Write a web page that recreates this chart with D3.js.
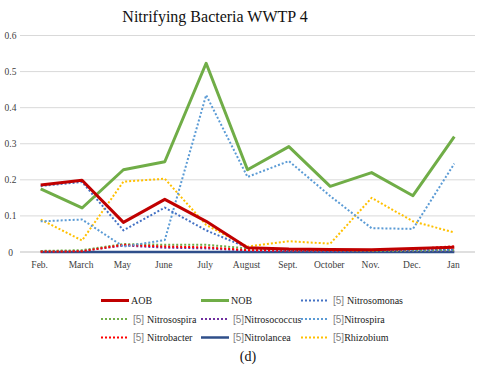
<!DOCTYPE html>
<html>
<head>
<meta charset="utf-8">
<script src="https://cdn.jsdelivr.net/npm/d3@7"></script>
<style>
  body { margin: 0; background: #fff; }
  svg { display: block; }
</style>
</head>
<body>
<div id="draw"></div>
<script>
let W = 480, H = 368;
let SERIF = '"Liberation Serif"';
let SANS = '"Liberation Sans"';

// data
let months = ['Feb.', 'March', 'May', 'June', 'July', 'August', 'Sept.', 'October', 'Nov.', 'Dec.', 'Jan'];
let yTicks = [0, 0.1, 0.2, 0.3, 0.4, 0.5, 0.6];
let aob = [0.186, 0.199, 0.082, 0.146, 0.085, 0.012, 0.008, 0.007, 0.006, 0.010, 0.013];
let nob = [0.175, 0.122, 0.228, 0.250, 0.523, 0.228, 0.292, 0.182, 0.220, 0.156, 0.320];
let nitrosomonas = [0.183, 0.194, 0.060, 0.123, 0.060, 0.012, 0.005, 0.004, 0.005, 0.006, 0.006];
let nitrosospira = [0.003, 0.005, 0.022, 0.020, 0.020, 0.010, 0.005, 0.004, 0.003, 0.004, 0.005];
let nitrosococcus = [0.002, 0.003, 0.018, 0.012, 0.010, 0.004, 0.003, 0.002, 0.003, 0.003, 0.004];
let nitrospira = [0.085, 0.090, 0.015, 0.033, 0.435, 0.208, 0.252, 0.155, 0.066, 0.064, 0.245];
let nitrobacter = [0.001, 0.002, 0.020, 0.015, 0.013, 0.005, 0.004, 0.004, 0.005, 0.008, 0.016];
let nitrolancea = [0.000, 0.000, 0.000, 0.000, 0.000, 0.000, 0.000, 0.000, 0.000, 0.000, 0.000];
let rhizobium = [0.090, 0.032, 0.195, 0.203, 0.075, 0.015, 0.030, 0.023, 0.150, 0.085, 0.054];

// draw order bottom -> top, legend order is separate
let series = [
  {name: 'Nitrolancea', vals: nitrolancea, color: '#2f4f8a', w: 2.5, dash: null, ref: true},
  {name: 'Nitrosococcus', vals: nitrosococcus, color: '#7030a0', w: 2, dash: '2,2', ref: true},
  {name: 'Nitrosospira', vals: nitrosospira, color: '#70ad47', w: 2, dash: '2,2', ref: true},
  {name: 'Nitrobacter', vals: nitrobacter, color: '#ff0000', w: 2, dash: '2,2', ref: true},
  {name: 'Rhizobium', vals: rhizobium, color: '#ffc000', w: 2, dash: '2,2', ref: true},
  {name: 'Nitrospira', vals: nitrospira, color: '#5b9bd5', w: 2, dash: '2,2', ref: true},
  {name: 'Nitrosomonas', vals: nitrosomonas, color: '#4472c4', w: 2, dash: '2,2', ref: true},
  {name: 'NOB', vals: nob, color: '#70ad47', w: 3, dash: null, ref: false},
  {name: 'AOB', vals: aob, color: '#c00000', w: 3, dash: null, ref: false}
];

let legendOrder = [
  ['AOB', 'NOB', 'Nitrosomonas'],
  ['Nitrosospira', 'Nitrosococcus', 'Nitrospira'],
  ['Nitrobacter', 'Nitrolancea', 'Rhizobium']
];
// entries written "[5]Name" with no space in the source figure
let noSpace = ['Nitrosococcus', 'Nitrospira', 'Nitrolancea', 'Rhizobium'];

let svg = d3.select('#draw').append('svg').attr('width', W).attr('height', H);

let x = d3.scaleBand().domain(months).range([20, 475]).padding(0);
let y = d3.scaleLinear().domain([0, 0.6]).range([252, 35.5]);
let cx = function(m) { return x(m) + x.bandwidth() / 2; };

// title
svg.append('text')
  .style('font-family', SERIF)
  .attr('x', 215).attr('y', 22)
  .attr('text-anchor', 'middle')
  .attr('font-size', 16)
  .attr('fill', '#111')
  .text('Nitrifying Bacteria WWTP 4');

// gridlines
svg.append('g').selectAll('line').data(yTicks).join('line')
  .attr('x1', 20).attr('x2', 475)
  .attr('y1', d => y(d)).attr('y2', d => y(d))
  .attr('stroke', d => d === 0 ? '#bfbfbf' : '#d9d9d9')
  .attr('stroke-width', 1);

// y labels
svg.append('g').selectAll('text').data(yTicks).join('text')
  .style('font-family', SERIF)
  .attr('x', 10.5).attr('y', d => y(d) + 3.5)
  .attr('text-anchor', 'middle')
  .attr('font-size', 9.5)
  .attr('fill', '#404040')
  .text(d => d === 0 ? '0' : d.toFixed(1));

// x labels
svg.append('g').selectAll('text').data(months).join('text')
  .style('font-family', SERIF)
  .attr('x', d => cx(d) - 1).attr('y', 268)
  .attr('text-anchor', 'middle')
  .attr('font-size', 9.5)
  .attr('fill', '#404040')
  .text(d => d);

// lines
let line = d3.line()
  .x((d, i) => cx(months[i]))
  .y(d => y(d));

svg.append('g').selectAll('path').data(series).join('path')
  .attr('d', d => line(d.vals))
  .attr('fill', 'none')
  .attr('stroke', d => d.color)
  .attr('stroke-width', d => d.w)
  .attr('stroke-dasharray', d => d.dash)
  .attr('stroke-linejoin', 'round');

// legend
let byName = {};
series.forEach(s => { byName[s.name] = s; });
let colX = [101, 201, 301];
let rowY = [300.5, 319, 337.5];
let leg = svg.append('g');
legendOrder.forEach((row, ri) => {
  row.forEach((nm, ci) => {
    let s = byName[nm];
    leg.append('line')
      .attr('x1', colX[ci]).attr('x2', colX[ci] + 28)
      .attr('y1', rowY[ri]).attr('y2', rowY[ri])
      .attr('stroke', s.color)
      .attr('stroke-width', s.w)
      .attr('stroke-dasharray', s.dash);
    let t = leg.append('text')
      .style('font-family', SERIF)
      .attr('x', colX[ci] + (s.ref ? 32 : 30)).attr('y', rowY[ri] + 3.5)
      .attr('font-size', 10)
      .attr('fill', '#222');
    if (s.ref) {
      t.append('tspan')
        .style('font-family', SANS)
        .attr('fill', '#808080')
        .text('[5]' + (noSpace.includes(nm) ? '' : ' '));
      t.append('tspan').text(nm);
    } else {
      t.text(nm);
    }
  });
});

// panel label
svg.append('text')
  .style('font-family', SERIF)
  .attr('x', 248).attr('y', 361)
  .attr('text-anchor', 'middle')
  .attr('font-size', 14)
  .attr('fill', '#111')
  .text('(d)');
</script>
</body>
</html>
